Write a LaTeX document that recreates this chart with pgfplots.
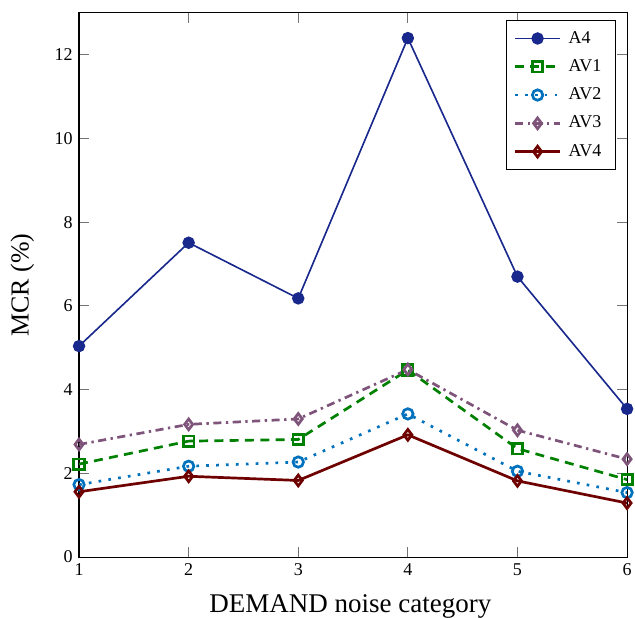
\documentclass[border=0pt]{standalone}
\usepackage{pgfplots}
\pgfplotsset{compat=1.18}
\usepackage{fontspec}
\setmainfont{Liberation Serif}
\definecolor{cA}{RGB}{24,40,140}
\definecolor{cB}{RGB}{0,128,0}
\definecolor{cC}{RGB}{0,114,189}
\definecolor{cD}{RGB}{126,84,122}
\definecolor{cE}{RGB}{110,0,0}
\begin{document}
\begin{tikzpicture}
\begin{axis}[
  scale only axis,
  width=304.4pt, height=302.2pt,
  xmin=1, xmax=6, ymin=0, ymax=13,
  xtick={1,2,3,4,5,6},
  ytick={0,2,4,6,8,10,12},
  /pgf/number format/assume math mode=true,
  xlabel={DEMAND noise category},
  ylabel={MCR (\%)},
  label style={font=\Large},
  xlabel style={font=\fontsize{15}{18}\selectfont, at={(axis description cs:0.495,-0.1013)}, anchor=base},
  ylabel style={at={(axis description cs:-0.1032,0.5)}, anchor=center},
  tick label style={font=\normalsize},
  major tick length=5.5pt,
  tick style={black!55, line width=0.5pt},
  axis line style={line width=0.6pt},
  legend style={at={(0.98,0.987)}, anchor=north east, font=\normalsize, row sep=3.6pt, inner xsep=4pt, inner ysep=4pt,
    nodes={inner xsep=4pt}},
  legend cell align=left,
  legend image code/.code={\draw[mark repeat=2,mark phase=2] plot coordinates {(0cm,0cm) (0.44cm,0cm) (0.88cm,0cm)};},
]
\addplot[color=cA, line width=0.9pt, mark=*, mark size=3pt] coordinates {(1,5.04) (2,7.51) (3,6.18) (4,12.40) (5,6.70) (6,3.54)};
\addlegendentry{A4}
\addplot[color=cB, line width=1.5pt, dash pattern=on 5pt off 3.5pt, mark=square, mark size=2.9pt, mark options={solid}] coordinates {(1,2.22) (2,2.77) (3,2.81) (4,4.47) (5,2.59) (6,1.85)};
\addlegendentry{AV1}
\addplot[color=cC, line width=1.5pt, dash pattern=on 1.5pt off 4pt, mark=o, mark size=2.9pt, mark options={solid}] coordinates {(1,1.73) (2,2.17) (3,2.27) (4,3.42) (5,2.05) (6,1.54)};
\addlegendentry{AV2}
\addplot[color=cD, line width=1.5pt, dash pattern=on 4.5pt off 2.5pt on 1.3pt off 2.5pt, mark=diamond, mark size=3pt, mark options={solid}] coordinates {(1,2.69) (2,3.17) (3,3.30) (4,4.48) (5,3.03) (6,2.34)};
\addlegendentry{AV3}
\addplot[color=cE, line width=1.5pt, mark=diamond, mark size=3pt] coordinates {(1,1.56) (2,1.93) (3,1.83) (4,2.92) (5,1.82) (6,1.29)};
\addlegendentry{AV4}
\end{axis}
\pgfresetboundingbox
\path ([xshift=-43.9pt,yshift=-33.3pt]current axis.south west) rectangle ([xshift=4.4pt,yshift=7.2pt]current axis.north east);
\end{tikzpicture}
\end{document}
